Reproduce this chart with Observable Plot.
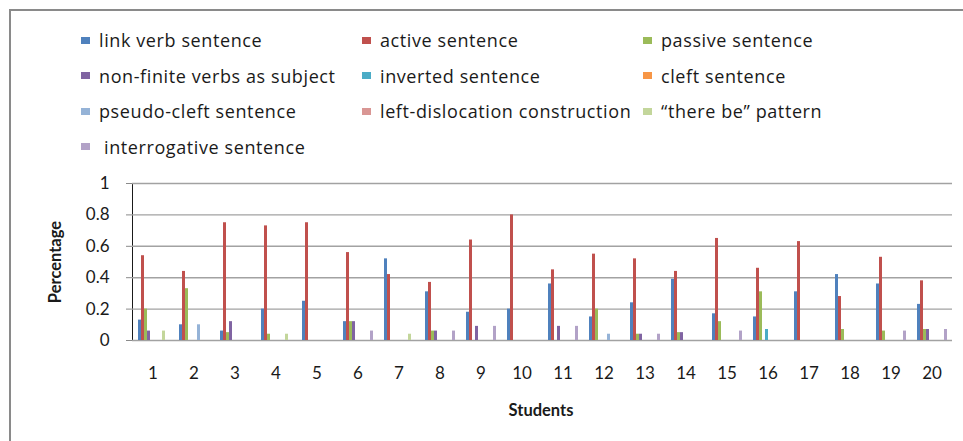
<!DOCTYPE html>
<html>
<head>
<meta charset="utf-8">
<script src="https://cdn.jsdelivr.net/npm/d3@7"></script>
<script src="https://cdn.jsdelivr.net/npm/@observablehq/plot@0.6"></script>
<style>
  html, body { margin: 0; padding: 0; background: #fff; }
  body { width: 963px; height: 441px; overflow: hidden; position: relative; font-family: Lato, "Open Sans", sans-serif; color: #1a1a1a; }
  #frame { position: absolute; left: 9px; top: 9px; width: 1000px; height: 1000px; border-left: 2px solid #8a8a8a; border-top: 2px solid #8a8a8a; pointer-events: none; }
  #legend { position: relative; height: 170px; }
  .item { position: absolute; display: flex; align-items: center; font-family: "Open Sans", Lato, sans-serif; font-size: 18px; letter-spacing: 0.6px; white-space: nowrap; line-height: 1; }
  .sw { width: 9px; height: 7px; margin-right: 9px; flex: none; }
  #chart { position: relative; height: 271px; }
  .title { position: absolute; font-weight: bold; font-size: 16.5px; white-space: nowrap; }
  [aria-label^="y-axis"] line, [aria-label^="y-axis"] path { stroke: #8a8a8a; }
</style>
</head>
<body>
<div id="frame"></div>
<div id="legend"></div>
<div id="chart"></div>
<script>
const students = d3.range(1, 21).map(String);
const series = [
  "link verb sentence", "active sentence", "passive sentence",
  "non-finite verbs as subject", "inverted sentence", "cleft sentence",
  "pseudo-cleft sentence", "left-dislocation construction", "\u201cthere be\u201d pattern",
  "interrogative sentence"
];
const colors = ["#4F81BD", "#C0504D", "#9BBB59", "#8064A2", "#4BACC6", "#F79646", "#95B3D7", "#D99694", "#C3D69B", "#B2A2C7"];
const yTicks = [0, 0.2, 0.4, 0.6, 0.8, 1];

const linkVerb      = [0.13,0.10,0.06,0.20,0.25,0.12,0.52,0.31,0.18,0.20,0.36,0.15,0.24,0.39,0.17,0.15,0.31,0.42,0.36,0.23];
const active        = [0.54,0.44,0.75,0.73,0.75,0.56,0.42,0.37,0.64,0.80,0.45,0.55,0.52,0.44,0.65,0.46,0.63,0.28,0.53,0.38];
const passive       = [0.20,0.33,0.05,0.04,0,0.12,0,0.06,0,0,0,0.20,0.04,0.05,0.12,0.31,0,0.07,0.06,0.07];
const nonFinite     = [0.06,0,0.12,0,0,0.12,0,0.06,0.09,0,0.09,0,0.04,0.05,0,0,0,0,0,0.07];
const inverted      = [0,0,0,0,0,0,0,0,0,0,0,0,0,0,0,0.07,0,0,0,0];
const cleft         = [0,0,0,0,0,0,0,0,0,0,0,0,0,0,0,0,0,0,0,0];
const pseudoCleft   = [0,0.10,0,0,0,0,0,0,0,0,0,0.04,0,0,0,0,0,0,0,0];
const leftDislocation = [0,0,0,0,0,0,0,0,0,0,0,0,0,0,0,0,0,0,0,0];
const thereBe       = [0.06,0,0,0.04,0,0,0.04,0,0,0,0,0,0,0,0,0,0,0,0,0];
const interrogative = [0,0,0,0,0,0.06,0,0.06,0.09,0,0.09,0,0.04,0,0.06,0,0,0,0.06,0.07];

const valuesBySeries = [linkVerb, active, passive, nonFinite, inverted, cleft, pseudoCleft, leftDislocation, thereBe, interrogative];
const data = [];
students.forEach((s, i) => series.forEach((name, j) => data.push({student: s, series: name, value: valuesBySeries[j][i]})));

const plot = Plot.plot({
  width: 963,
  height: 271,
  marginLeft: 131,
  marginRight: 11,
  marginTop: 13,
  marginBottom: 101,
  style: {fontFamily: "Lato, 'Open Sans', sans-serif", fontSize: "17px", color: "#1a1a1a", background: "transparent", overflow: "visible"},
  facet: {data, x: "student"},
  fx: {domain: students, paddingInner: 0, paddingOuter: 0, label: null, tickSize: 0, tickPadding: 26},
  x: {domain: series, axis: null, paddingInner: 0, paddingOuter: 0.86},
  y: {domain: [0, 1], ticks: yTicks, tickFormat: d => String(d), tickSize: 6, tickPadding: 17, label: null, line: true},
  color: {domain: series, range: colors},
  marks: [
    Plot.ruleY(yTicks, {stroke: "#a2a2a2", strokeWidth: 1.4}),
    Plot.barY(data, {x: "series", y: "value", fill: "series"})
  ]
});
document.getElementById("chart").appendChild(plot);

const color = plot.scale("color");
const legend = document.getElementById("legend");
const colX = [81, 362, 643];
const rowY = [40, 75.5, 111, 146.5];
series.forEach((name, k) => {
  const r = Math.floor(k / 3), c = k % 3;
  const it = document.createElement("div");
  it.className = "item";
  it.style.left = colX[c] + "px";
  it.style.top = (rowY[r] - 9) + "px";
  it.style.height = "18px";
  const sw = document.createElement("span");
  sw.className = "sw";
  sw.style.background = color.apply(name);
  if (k === 9) sw.style.marginRight = "14px";
  const tx = document.createElement("span");
  tx.textContent = name;
  it.appendChild(sw); it.appendChild(tx);
  legend.appendChild(it);
});

const chart = document.getElementById("chart");
const xt = document.createElement("div");
xt.className = "title";
xt.textContent = "Students";
xt.style.left = "541px"; xt.style.top = (410 - 170 - 10) + "px";
xt.style.transform = "translateX(-50%)";
chart.appendChild(xt);
const yt = document.createElement("div");
yt.className = "title";
yt.textContent = "Percentage";
yt.style.left = "55px"; yt.style.top = (262 - 170) + "px";
yt.style.transform = "translate(-50%, -50%) rotate(-90deg)";
chart.appendChild(yt);
</script>
</body>
</html>
